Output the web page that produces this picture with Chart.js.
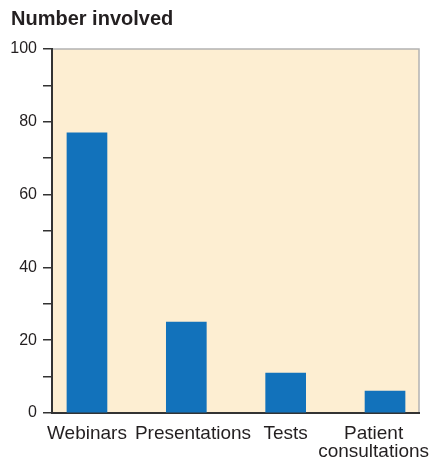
<!DOCTYPE html>
<html>
<head>
<meta charset="utf-8">
<script src="https://cdn.jsdelivr.net/npm/chart.js@4"></script>
<style>
  html, body { margin: 0; padding: 0; background: #ffffff; }
  canvas { display: block; }
</style>
</head>
<body>
<canvas id="chart" width="432" height="461"></canvas>
<script>
// data
const categories = ['Webinars', 'Presentations', 'Tests', ['Patient', 'consultations']];
const numberInvolved = [77, 25, 11, 6];
const yTicks = [0, 20, 40, 60, 80, 100];

const fontFamily = '"Liberation Sans", Arial, Helvetica, sans-serif';
const textColor = '#231f20';

// the original nudges two labels off their bar centre; mimic it with blank padding
function tickLabel(i) {
  const lab = categories[i];
  if (i === 1) return '\u2002\u2009' + lab;
  if (i === 3) return lab.map(s => s + '\u2003\u2009');
  return lab;
}

// peach plot background plus grey top/right frame
const plotFrame = {
  id: 'plotFrame',
  beforeDraw(chart) {
    const { ctx, chartArea: a } = chart;
    ctx.save();
    ctx.fillStyle = '#fdeed2';
    ctx.fillRect(a.left, a.top, a.right - a.left, a.bottom - a.top);
    ctx.strokeStyle = '#b3b3b3';
    ctx.lineWidth = 1.5;
    ctx.beginPath();
    ctx.moveTo(a.left, a.top);
    ctx.lineTo(a.right, a.top);
    ctx.lineTo(a.right, a.bottom);
    ctx.stroke();
    ctx.restore();
  }
};

const ctx = document.getElementById('chart').getContext('2d');
new Chart(ctx, {
  type: 'bar',
  data: {
    datasets: [{
      label: 'Number involved',
      data: numberInvolved.map((v, i) => ({ x: i, y: v })),
      backgroundColor: '#1272bb',
      borderWidth: 0,
      barThickness: 40
    }]
  },
  plugins: [plotFrame],
  options: {
    responsive: false,
    animation: false,
    layout: { padding: { left: 11, right: 13, top: 0, bottom: 0 } },
    plugins: {
      legend: { display: false },
      tooltip: { enabled: false },
      title: {
        display: true,
        text: 'Number involved',
        align: 'start',
        color: textColor,
        font: { family: fontFamily, size: 20, weight: 'bold' },
        padding: { top: 7, bottom: 18 }
      }
    },
    scales: {
      x: {
        type: 'linear',
        offset: false,
        min: -0.352,
        max: 3.342,
        grid: { display: false, drawTicks: false },
        border: { display: true, color: '#333333', width: 2 },
        ticks: {
          stepSize: 1,
          includeBounds: false,
          autoSkip: false,
          maxRotation: 0,
          padding: 12,
          color: textColor,
          font: { family: fontFamily, size: 19, lineHeight: 0.95 },
          callback: (v) => Number.isInteger(v) ? tickLabel(v) : ''
        },
        afterFit(scale) {
          scale.height = 48;
          scale.paddingLeft = 0;
          scale.paddingRight = 0;
        }
      },
      y: {
        min: 0,
        max: 100,
        grid: { drawOnChartArea: false, drawTicks: true, tickLength: 9, color: '#333333', lineWidth: 1.5 },
        border: { display: true, color: '#333333', width: 2 },
        ticks: {
          stepSize: 10,
          padding: 6,
          color: textColor,
          font: { family: fontFamily, size: 16 },
          callback: (v) => yTicks.includes(v) ? String(v) : ''
        },
        afterFit(scale) {
          scale.width = 41;
        }
      }
    }
  }
});
</script>
</body>
</html>
